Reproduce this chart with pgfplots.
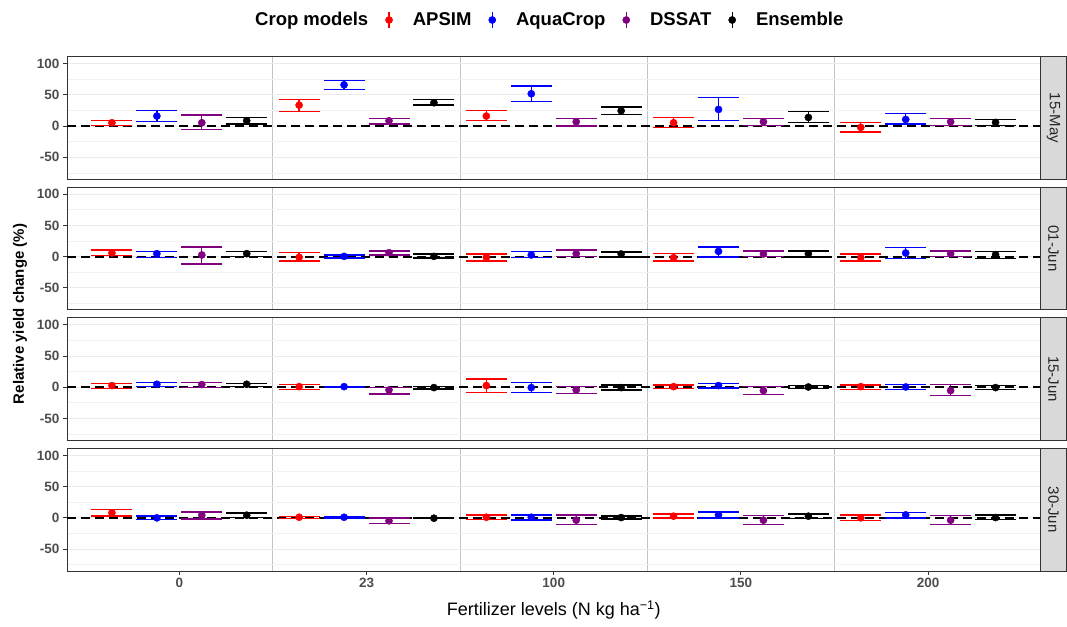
\documentclass[border=0pt]{standalone}
\usepackage{pgfplots}
\pgfplotsset{compat=1.18}
\usepackage{pgfplotstable}
\usepackage{fontspec}
\setmainfont{Liberation Sans}

\definecolor{gray20}{HTML}{333333}
\definecolor{gray30}{HTML}{4D4D4D}
\definecolor{gridc}{HTML}{EBEBEB}
\definecolor{gridm}{HTML}{F2F2F2}
\definecolor{vgrid}{HTML}{C4C4C4}
\definecolor{stripc}{HTML}{D9D9D9}
\definecolor{dpurple}{HTML}{800080}

% columns: c | APSIM y lo hi | AquaCrop y lo hi | DSSAT y lo hi | Ensemble y lo hi
\pgfplotstableread{
c ay alo ahi qy qlo qhi dy dlo dhi ey elo ehi
0 5.3 0.5 9.1 16 6.9 24.5 5.3 -5.9 17.6 8.5 3.2 13.8
1 33.5 22.9 42.6 66 58.6 73 8.5 3.2 12.2 37.3 33.5 42.6
2 16 8.5 25 51.7 38.9 64.4 6.9 0 12.2 24.5 18.6 30.4
3 5.3 -2.7 13.8 26.6 8.5 45.8 6.9 1 12.2 13.8 5.3 22.9
4 -2.1 -9.6 5.3 10.6 3.2 19.7 6.9 1 12.2 5.9 1 10.6
}\tMayA
\pgfplotstableread{
c ay alo ahi qy qlo qhi dy dlo dhi ey elo ehi
0 5.9 1.6 10.6 4.8 -1 8.5 2.7 -11.7 15.4 4.8 0.5 8.5
1 -1 -6.9 6.4 0.5 -2.1 2.7 6.4 2.7 9 0.5 -2 4.3
2 -1 -6.9 4.3 2.7 -1 8.5 4.8 0.5 10.6 4.3 -0.5 7.5
3 -1.6 -6.9 4.8 8.5 -0.5 15.4 4.3 0.5 9 4.8 -0.5 9
4 -1.6 -6.9 4.3 5.9 -2.7 14.9 4.8 0 9 3.2 -2.7 8.5
}\tJunA
\pgfplotstableread{
c ay alo ahi qy qlo qhi dy dlo dhi ey elo ehi
0 2.7 -2.1 6.4 4.8 1.6 8 4.3 0 7.5 4.8 1 6.4
1 1 -3.2 4.8 1 -0.5 1.5 -4.3 -10.6 0 -0.5 -2.7 1
2 2.7 -8.5 13.3 -0.5 -8.5 7.5 -4.3 -10.1 1 -0.5 -4.3 3.7
3 1 -2.1 3.7 2.7 -1 5.9 -5.3 -11.7 1 0.5 -2.1 2.7
4 1 -3.2 3.7 0.5 -3.7 4.3 -5.3 -13.3 4.3 -0.5 -3.2 2.7
}\tJunB
\pgfplotstableread{
c ay alo ahi qy qlo qhi dy dlo dhi ey elo ehi
0 8 3.2 13.8 0 -2.7 3.2 4.3 -1.6 9.6 4.3 1 7.5
1 1 -1 2 1 -1 1.6 -4.8 -9 0 -0.5 -1 0.5
2 1 -2.7 4.3 1 -3.7 4.3 -3.7 -10.6 4.3 0.5 -2.1 3.2
3 2.7 -0.5 6.4 4.8 -0.5 9.6 -3.7 -10.6 3.7 2.7 -1 6.4
4 0 -4.3 4.3 4.8 -0.5 9 -3.7 -10.6 3.7 0.5 -2.7 4.3
}\tJunC

\pgfplotsset{
  panel/.style={
    scale only axis, width=973.5pt, height=122.5pt,
    xmin=-0.6, xmax=4.6, ymin=-85, ymax=111,
    ytick={-50,0,50,100}, yticklabels={-50,0,50,100},
    minor ytick={-75,-25,25,75},
    xtick={0,1,2,3,4},
    minor xtick={0.5,1.5,2.5,3.5},
    ymajorgrids, yminorgrids, xminorgrids,
    major y grid style={color=gridc, line width=1pt},
    minor y grid style={color=gridm, line width=0.8pt},
    minor x grid style={color=vgrid, line width=0.9pt},
    tick align=outside, major tick length=4pt, minor tick length=0pt,
    tick style={color=gray20, line width=1pt},
    xtick pos=bottom, ytick pos=left,
    axis line style={color=gray20, line width=1pt},
    yticklabel style={font=\bfseries\fontsize{13.5}{16}\selectfont, text=gray30},
    xticklabel style={font=\bfseries\fontsize{13.5}{16}\selectfont, text=gray30},
  },
  inner panel/.style={xticklabels={}, x tick style={draw=none}},
  mstyle/.style={
    only marks, mark=*, mark size=3.6pt, color=#1,
    mark options={solid, fill=#1, draw=#1},
    error bars/y dir=both, error bars/y explicit,
    error bars/error mark=none,
    error bars/error bar style={line width=1.4pt, color=#1, solid},
    legend image code/.code={
      \draw[line width=1.4pt] (0pt,-8pt) -- (0pt,8pt);
      \fill (0pt,0pt) circle (3.6pt);
    },
  },
  capstyle/.style={forget plot, only marks, color=#1, mark=-, mark size=20.5pt,
    mark options={solid, color=#1, draw=#1, line width=1.4pt}},
  zline/.style={forget plot, black, line width=2.2pt, dash pattern=on 9pt off 5pt},
}

% #1 table, #2 offset, #3 prefix, #4 colour, #5 legend command, #6 name
\newcommand{\series}[6]{%
  \addplot[capstyle=#4] table[x expr=\thisrow{c}+#2, y=#3hi] {#1};
  \addplot[capstyle=#4] table[x expr=\thisrow{c}+#2, y=#3lo] {#1};
  \addplot[mstyle=#4] table[x expr=\thisrow{c}+#2, y=#3y, y error plus expr=\thisrow{#3hi}-\thisrow{#3y}, y error minus expr=\thisrow{#3y}-\thisrow{#3lo}] {#1};
  #5{#6}
}
\newcommand{\panelplots}[2]{%
  \series{#1}{-0.36}{a}{red}{#2}{APSIM}
  \series{#1}{-0.12}{q}{blue}{#2}{AquaCrop}
  \series{#1}{0.12}{d}{dpurple}{#2}{DSSAT}
  \series{#1}{0.36}{e}{black}{#2}{Ensemble}
  \addplot[zline] coordinates {(-0.6,0) (4.6,0)};
}
\newcommand{\gobbleone}[1]{}

\begin{document}
\begin{tikzpicture}
\useasboundingbox (0,0) rectangle (1067pt,626pt);

\begin{axis}[panel, inner panel, name=p1, at={(67pt,446.8pt)}, anchor=south west,
  legend style={at={(axis description cs:0.17257,1.2996)}, anchor=west,
    draw=none, fill=none, inner sep=0pt, nodes={inner sep=0pt},
    legend columns=-1, font=\bfseries\fontsize{18.5}{22}\selectfont,
    /tikz/every odd column/.append style={column sep=20pt},
    /tikz/every even column/.append style={column sep=17pt}}]
  \addlegendimage{empty legend}
  \addlegendentry{Crop models}
  \panelplots{\tMayA}{\addlegendentry}
\end{axis}

\begin{axis}[panel, inner panel, name=p2, at={(67pt,316.2pt)}, anchor=south west]
  \panelplots{\tJunA}{\gobbleone}
\end{axis}

\begin{axis}[panel, inner panel, name=p3, at={(67pt,185.6pt)}, anchor=south west]
  \panelplots{\tJunB}{\gobbleone}
\end{axis}

\begin{axis}[panel, name=p4, at={(67pt,55pt)}, anchor=south west,
  xticklabels={0,23,100,150,200}]
  \panelplots{\tJunC}{\gobbleone}
\end{axis}

\foreach \n/\lab in {p1/15-May, p2/01-Jun, p3/15-Jun, p4/30-Jun} {
  \draw[fill=stripc, draw=gray20, line width=0.8pt] (\n.south east) rectangle ([xshift=26pt]\n.north east);
  \node[rotate=-90, font=\fontsize{15}{18}\selectfont, text=black!85, inner sep=0pt] at ([xshift=13pt]\n.east) {\lab};
}

\node[rotate=90, font=\bfseries\fontsize{15}{18}\selectfont] at (20pt,312pt) {Relative yield change (\%)};
\node[font=\fontsize{18}{21}\selectfont] at (553.75pt,16pt) {Fertilizer levels (N kg ha\textsuperscript{−1})};
\end{tikzpicture}
\end{document}
